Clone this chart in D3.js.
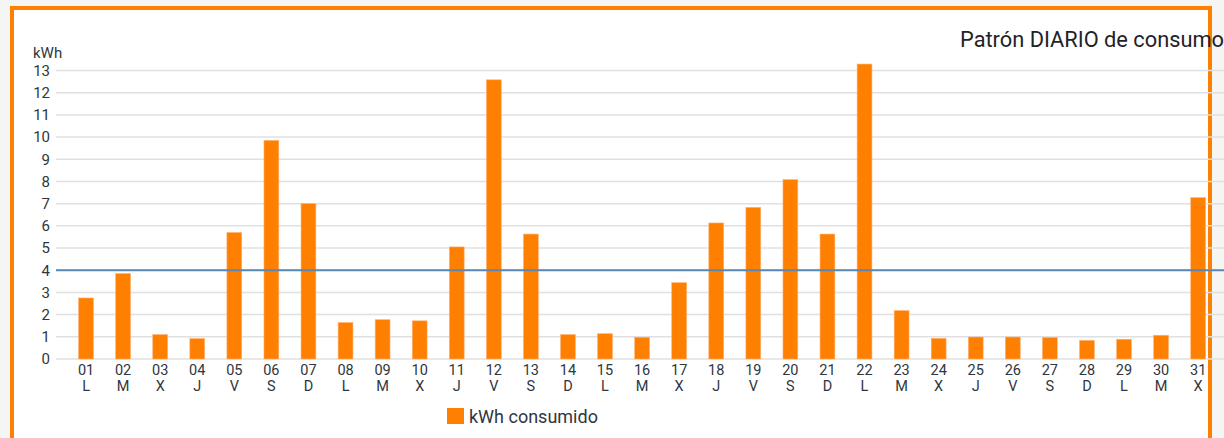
<!DOCTYPE html>
<html>
<head>
<meta charset="utf-8">
<script src="https://cdn.jsdelivr.net/npm/d3@7"></script>
<style>
  body { margin: 0; background: #f5f5f3; overflow: hidden; }
  text { font-family: Roboto, "Noto Sans", sans-serif; }
</style>
</head>
<body>
<div id="chart"></div>
<script>
// dias del mes y consumo diario
var days = ["01","02","03","04","05","06","07","08","09","10","11","12","13","14","15","16",
            "17","18","19","20","21","22","23","24","25","26","27","28","29","30","31"];
var weekdays = ["L","M","X","J","V","S","D","L","M","X","J","V","S","D","L","M",
                "X","J","V","S","D","L","M","X","J","V","S","D","L","M","X"];
var kwh = [2.75, 3.85, 1.1, 0.92, 5.7, 9.85, 7.0, 1.64, 1.77, 1.72, 5.05, 12.58, 5.63, 1.1, 1.14, 0.98,
           3.44, 6.13, 6.83, 8.08, 5.63, 13.29, 2.18, 0.93, 0.99, 0.99, 0.97, 0.84, 0.89, 1.07, 7.27];
var yTicks = [0,1,2,3,4,5,6,7,8,9,10,11,12,13];
var limite = 4;

var svg_width = 1224;
var svg_height = 438;

var svg = d3.select("#chart")
    .append("svg")
    .attr("width", svg_width)
    .attr("height", svg_height);

// caja blanca con borde naranja
svg.append("rect")
    .attr("x", 12).attr("y", 8)
    .attr("width", 1198).attr("height", 460)
    .attr("fill", "white")
    .attr("stroke", "#ff7f00")
    .attr("stroke-width", 4);

var x_scale = d3.scaleBand()
    .domain(days)
    .range([67.5, 1216.7])
    .paddingInner(0.6)
    .paddingOuter(0.3);

var y_scale = d3.scaleLinear()
    .domain([0, 13])
    .range([359, 70.5]);

// rejilla
svg.append("g")
    .selectAll("line")
    .data(yTicks)
    .enter()
    .append("line")
    .attr("x1", 56).attr("x2", svg_width)
    .attr("y1", d => y_scale(d)).attr("y2", d => y_scale(d))
    .attr("stroke", "#e0e0e0")
    .attr("stroke-width", 1.5);

// etiquetas eje y
var left_axis = d3.axisLeft(y_scale).tickValues(yTicks).tickSize(0).tickPadding(0);
var yAxis = svg.append("g")
    .attr("transform", "translate(50,0)")
    .call(left_axis);
yAxis.select(".domain").remove();
yAxis.selectAll("text")
    .attr("font-size", 15)
    .attr("font-family", "Roboto, sans-serif")
    .attr("fill", "#2f3640");

svg.append("text")
    .attr("x", 33).attr("y", 58)
    .attr("font-size", 15)
    .attr("fill", "#2f3640")
    .text("kWh");

// barras
svg.append("g")
    .selectAll("rect")
    .data(kwh)
    .enter()
    .append("rect")
    .attr("x", (d, i) => x_scale(days[i]))
    .attr("y", d => y_scale(d))
    .attr("width", x_scale.bandwidth())
    .attr("height", d => y_scale(0) - y_scale(d))
    .attr("fill", "#ff7f00")
    .attr("stroke", "#ffb070")
    .attr("stroke-width", 0.6);

// linea de referencia
svg.append("line")
    .attr("x1", 56).attr("x2", svg_width)
    .attr("y1", y_scale(limite)).attr("y2", y_scale(limite))
    .attr("stroke", "#5a86b3")
    .attr("stroke-width", 2);

// etiquetas eje x (dos lineas)
var xLabels = svg.append("g")
    .selectAll("text")
    .data(days)
    .enter()
    .append("text")
    .attr("text-anchor", "middle")
    .attr("font-size", 14.5)
    .attr("fill", "#2f3640");
xLabels.append("tspan")
    .attr("x", d => x_scale(d) + x_scale.bandwidth() / 2)
    .attr("y", 375)
    .text(d => d);
xLabels.append("tspan")
    .attr("x", d => x_scale(d) + x_scale.bandwidth() / 2)
    .attr("y", 391)
    .text((d, i) => weekdays[i]);

// titulo
svg.append("text")
    .attr("x", 960).attr("y", 47)
    .attr("font-size", 21.8)
    .attr("fill", "#1f2328")
    .text("Patrón DIARIO de consumo");

// leyenda
svg.append("rect")
    .attr("x", 447).attr("y", 408)
    .attr("width", 17).attr("height", 16)
    .attr("fill", "#ff7f00");
svg.append("text")
    .attr("x", 469).attr("y", 423)
    .attr("font-size", 18)
    .attr("fill", "#2f3640")
    .text("kWh consumido");
</script>
</body>
</html>
